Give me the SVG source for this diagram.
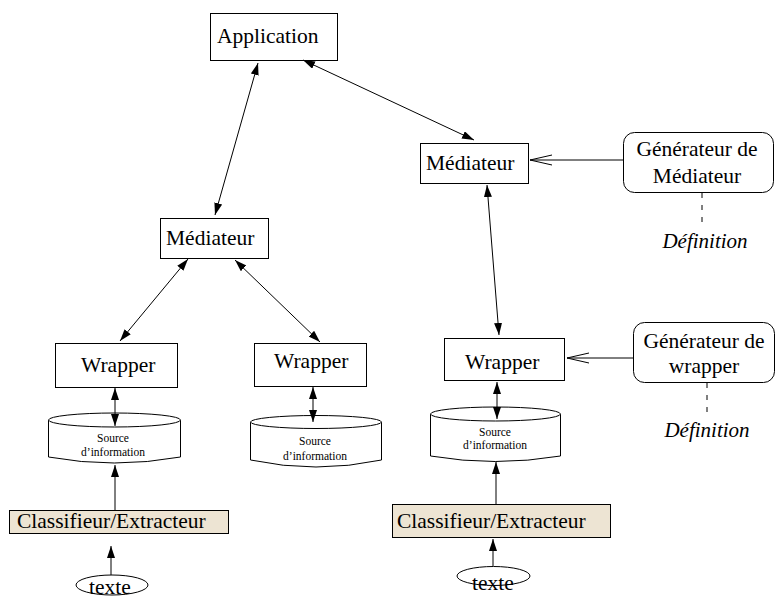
<svg xmlns="http://www.w3.org/2000/svg" width="776" height="599" viewBox="0 0 776 599">
<style>
.box{fill:#fff;stroke:#000;stroke-width:1}
.cls{fill:#ede4d3;stroke:#000;stroke-width:1}
.t{font-family:"Liberation Serif","Times New Roman",serif;font-size:21.5px;fill:#000}
.s{font-family:"Liberation Serif","Times New Roman",serif;font-size:11.5px;fill:#000;text-anchor:middle}
.i{font-family:"Liberation Serif","Times New Roman",serif;font-size:21px;font-style:italic;fill:#000;text-anchor:middle}
.c{fill:none;stroke:#000;stroke-width:1}
.d{fill:none;stroke:#000;stroke-width:1;stroke-dasharray:5 7}
</style>
<defs>
<marker id="ah" markerUnits="userSpaceOnUse" markerWidth="13" markerHeight="9" refX="12" refY="4" orient="auto-start-reverse" viewBox="0 0 13 9">
<path d="M0,0 L12,4 L0,8 z" fill="#000"/>
</marker>
</defs>
<g id="application"><rect class="box" x="210.5" y="13.5" width="127" height="47"/><text class="t" x="217" y="43">Application</text></g>
<g id="mediateur1"><rect class="box" x="160.5" y="218.5" width="108" height="40"/><text class="t" x="166" y="245">Médiateur</text></g>
<g id="mediateur2"><rect class="box" x="420.5" y="143.5" width="108" height="40"/><text class="t" x="426" y="170">Médiateur</text></g>
<g id="wrapper1"><rect class="box" x="55.5" y="343.5" width="122" height="44"/><text class="t" x="81" y="372">Wrapper</text></g>
<g id="wrapper2"><rect class="box" x="254.5" y="343.5" width="112" height="43"/><text class="t" x="274" y="368">Wrapper</text></g>
<g id="wrapper3"><rect class="box" x="444.5" y="338.5" width="120" height="42"/><text class="t" x="465" y="369">Wrapper</text></g>
<g id="gen-mediateur"><rect class="box" x="623.5" y="132.5" width="150" height="60" rx="11"/><text class="t" x="697" y="156" text-anchor="middle">Générateur de</text><text class="t" x="697" y="183" text-anchor="middle">Médiateur</text></g>
<g id="gen-wrapper"><rect class="box" x="633.5" y="322.5" width="141" height="60" rx="11"/><text class="t" x="704" y="348" text-anchor="middle">Générateur de</text><text class="t" x="704" y="373" text-anchor="middle">wrapper</text></g>
<g id="def1"><text class="i" x="705" y="248">Définition</text></g>
<g id="def2"><text class="i" x="707" y="437">Définition</text></g>
<g id="source1"><path class="box" d="M48.5,420 L48.5,457 Q114,469 180.5,457 L180.5,420"/><ellipse class="box" cx="114.5" cy="420" rx="66" ry="7"/><text class="s" x="113" y="442">Source</text><text class="s" x="113" y="456">d’information</text></g>
<g id="source2"><path class="box" d="M250.5,422 L250.5,460 Q316,474 381.5,460 L381.5,422"/><ellipse class="box" cx="316" cy="422" rx="65.5" ry="6.5"/><text class="s" x="315" y="445">Source</text><text class="s" x="315" y="460">d’information</text></g>
<g id="source3"><path class="box" d="M430.5,414 L430.5,456 Q495,467 560.5,456 L560.5,414"/><ellipse class="box" cx="495.5" cy="414" rx="65" ry="7"/><text class="s" x="495" y="436">Source</text><text class="s" x="495" y="449">d’information</text></g>
<g id="classifieur1"><rect class="cls" x="9.5" y="510.5" width="219" height="23"/><text class="t" x="17" y="528">Classifieur/Extracteur</text></g>
<g id="classifieur2"><rect class="cls" x="392.5" y="504.5" width="218" height="33"/><text class="t" x="397" y="528">Classifieur/Extracteur</text></g>
<g id="texte1"><ellipse class="box" cx="112" cy="585" rx="36" ry="10"/><text class="t" x="110" y="594" text-anchor="middle">texte</text></g>
<g id="texte2"><ellipse class="box" cx="493.5" cy="576" rx="36.5" ry="9.5"/><text class="t" x="493" y="590" text-anchor="middle">texte</text></g>
<g id="connectors">
<line class="c" x1="258" y1="63" x2="215" y2="215" marker-start="url(#ah)" marker-end="url(#ah)"/>
<line class="c" x1="303" y1="60" x2="474" y2="140" marker-start="url(#ah)" marker-end="url(#ah)"/>
<line class="c" x1="188" y1="259" x2="120" y2="341" marker-start="url(#ah)" marker-end="url(#ah)"/>
<line class="c" x1="235" y1="260" x2="320" y2="342" marker-start="url(#ah)" marker-end="url(#ah)"/>
<line class="c" x1="115" y1="388" x2="115" y2="426" marker-start="url(#ah)" marker-end="url(#ah)"/>
<line class="c" x1="313" y1="387" x2="313" y2="422" marker-start="url(#ah)" marker-end="url(#ah)"/>
<line class="c" x1="115" y1="510" x2="115" y2="465" marker-end="url(#ah)"/>
<line class="c" x1="111" y1="575" x2="111" y2="546" marker-end="url(#ah)"/>
<line class="c" x1="487" y1="185" x2="499" y2="335" marker-start="url(#ah)" marker-end="url(#ah)"/>
<line class="c" x1="497" y1="382" x2="497" y2="419" marker-start="url(#ah)" marker-end="url(#ah)"/>
<line class="c" x1="496" y1="504" x2="496" y2="462" marker-end="url(#ah)"/>
<line class="c" x1="493" y1="566" x2="493" y2="539" marker-end="url(#ah)"/>
<line class="c" x1="623" y1="160" x2="530" y2="160"/>
<polyline class="c" points="552,155 530,160 552,165"/>
<line class="c" x1="633" y1="358" x2="567" y2="358"/>
<polyline class="c" points="589,353 567,358 589,363"/>
<line class="d" x1="702" y1="193" x2="702" y2="228"/>
<line class="d" x1="707" y1="383" x2="707" y2="416"/>
</g>
</svg>
